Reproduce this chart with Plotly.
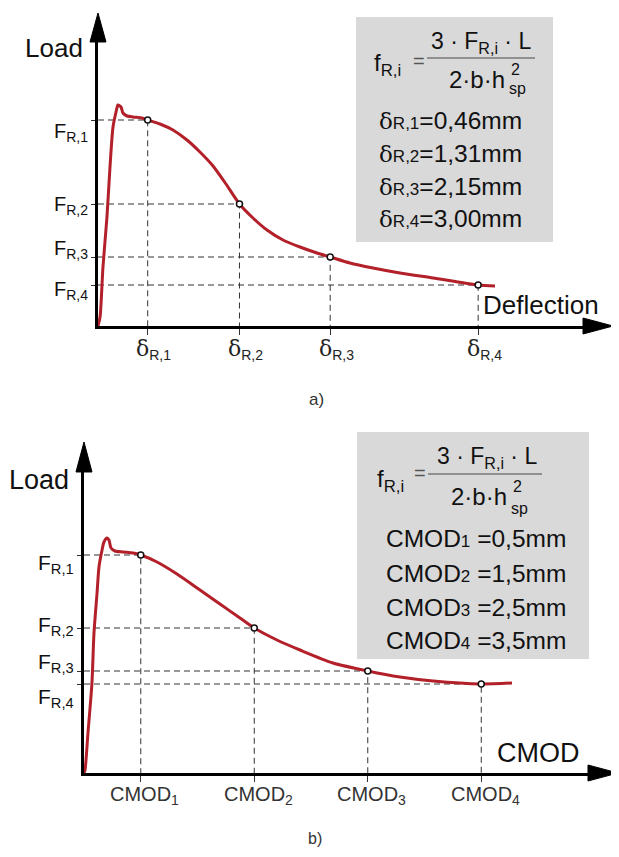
import plotly.graph_objects as go

# page is 619x857; the html body has an 8px margin, so the figure is 16px smaller
PAGE_W, PAGE_H = 619, 857
OFF = 8
W, H = PAGE_W - 2 * OFF, PAGE_H - 2 * OFF

# ---------------- data ----------------
# a) Load - deflection curve (schematic units read off the picture)
defl_x = [0, 0.019, 0.046, 0.083, 0.111, 0.139, 0.167, 0.185, 0.213, 0.231, 0.269, 0.324,
          0.407, 0.46, 0.574, 0.694, 0.824, 0.944, 1.065, 1.185, 1.31, 1.435, 1.565, 1.713,
          1.870, 2.028, 2.15, 2.333, 2.546, 2.796, 3.102, 3.52, 3.676]
defl_load = [0, 0.45, 2.95, 5.45, 7.95, 9.95, 10.7, 11.05, 10.95, 10.65, 10.5, 10.45,
             10.4, 10.3, 10.1, 9.8, 9.3, 8.7, 8.0, 7.1, 6.1, 5.4, 4.8, 4.3,
             3.95, 3.65, 3.45, 3.15, 2.9, 2.65, 2.4, 2.05, 2.0]
defl_pts_x = [0.46, 1.31, 2.15, 3.52]
defl_pts_F = [10.3, 6.1, 3.45, 2.05]
defl_values = ["0,46", "1,31", "2,15", "3,00"]

# b) Load - CMOD curve (mm)
cmod_x = [0, 0.009, 0.035, 0.070, 0.088, 0.115, 0.132, 0.159, 0.176, 0.203, 0.220, 0.238,
          0.273, 0.344, 0.432, 0.5, 0.643, 0.819, 1.022, 1.198, 1.374, 1.5, 1.70, 1.903,
          2.194, 2.5, 2.784, 3.075, 3.5, 3.771]
cmod_load = [0, 0.15, 2.0, 4.5, 7.0, 9.0, 10.3, 11.15, 11.55, 11.75, 11.65, 11.25,
             11.1, 11.05, 11.0, 10.9, 10.55, 9.95, 9.15, 8.45, 7.75, 7.25, 6.65, 6.15,
             5.5, 5.1, 4.8, 4.6, 4.45, 4.5]
cmod_pts_x = [0.5, 1.5, 2.5, 3.5]
cmod_pts_F = [10.9, 7.25, 5.1, 4.45]
cmod_values = ["0,5", "1,5", "2,5", "3,5"]

idx = ["1", "2", "3", "4"]
F_labels = ["F<sub>R,%s</sub>" % i for i in idx]
delta_labels = ["<span style=\"font-family:DejaVu Serif;font-size:22px\">δ</span><sub>R,%s</sub>" % i for i in idx]
cmod_labels = ["CMOD<sub>%s</sub>" % i for i in idx]

# ---------------- style ----------------
RED = "#b3202a"
FONT = "Liberation Sans, Arial, sans-serif"
BOX = "#d9d9d9"
top_label_nudge = [8, -3, -12, 1]
bot_label_nudge = [5, -6, -12, 10]


def X(p):
    return (p - OFF) / W


def Y(p):
    return 1 - (p - OFF) / H


fig = go.Figure()


def guides(xs, ys, xa, ya):
    gx, gy = [], []
    for a, b in zip(xs, ys):
        gx += [0, a, a, None]
        gy += [b, b, 0, None]
    fig.add_trace(go.Scatter(x=gx, y=gy, mode="lines", xaxis=xa, yaxis=ya,
                             line=dict(color="#333", width=1, dash="6px,4px"),
                             hoverinfo="skip", showlegend=False))


guides(defl_pts_x, defl_pts_F, "x", "y")
guides(cmod_pts_x, cmod_pts_F, "x2", "y2")

fig.add_trace(go.Scatter(x=defl_x, y=defl_load, mode="lines", line=dict(color=RED, width=3, shape="spline", smoothing=0.7),
                         xaxis="x", yaxis="y", showlegend=False, cliponaxis=False))
fig.add_trace(go.Scatter(x=cmod_x, y=cmod_load, mode="lines", line=dict(color=RED, width=3, shape="spline", smoothing=0.7),
                         xaxis="x2", yaxis="y2", showlegend=False, cliponaxis=False))
for xs, ys, xa, ya in [(defl_pts_x, defl_pts_F, "x", "y"), (cmod_pts_x, cmod_pts_F, "x2", "y2")]:
    fig.add_trace(go.Scatter(x=xs, y=ys, mode="markers", xaxis=xa, yaxis=ya,
                             marker=dict(symbol="circle", size=6, color="white", line=dict(color="#111", width=1.5)),
                             showlegend=False, cliponaxis=False))

ax_common = dict(showline=True, linewidth=3, linecolor="black", showgrid=False, zeroline=False,
                 showticklabels=False, ticks="outside", tickwidth=1, tickcolor="#333", fixedrange=True)

fig.update_layout(
    width=W, height=H, margin=dict(l=0, r=0, t=0, b=0),
    paper_bgcolor="white", plot_bgcolor="rgba(0,0,0,0)",
    font=dict(family=FONT, color="#111"),
    xaxis=dict(domain=[X(98), X(583)], range=[0, 485 / 108], anchor="y", tickvals=defl_pts_x, ticklen=6, **ax_common),
    yaxis=dict(domain=[Y(326), Y(42)], range=[0, 284 / 20], anchor="x", tickvals=defl_pts_F, ticklen=4, **ax_common),
    xaxis2=dict(domain=[X(84), X(588)], range=[0, 504 / 113.5], anchor="y2", tickvals=cmod_pts_x, ticklen=6, **ax_common),
    yaxis2=dict(domain=[Y(773), Y(472)], range=[0, 301 / 20], anchor="x2", tickvals=cmod_pts_F, ticklen=4, **ax_common),
)

shapes = []
# axis arrow heads
for (tx, ty, bx, by) in [(613, 326, 583, 326), (98, 13, 98, 42), (618, 773, 588, 773), (84, 442, 84, 472)]:
    if ty == by:
        path = "M%f,%f L%f,%f L%f,%f Z" % (X(bx), Y(by - 8), X(tx), Y(ty), X(bx), Y(by + 8))
    else:
        path = "M%f,%f L%f,%f L%f,%f Z" % (X(bx - 8), Y(by), X(tx), Y(ty), X(bx + 8), Y(by))
    shapes.append(dict(type="path", xref="paper", yref="paper", path=path,
                       fillcolor="black", line=dict(color="black", width=1)))
# grey boxes
shapes.append(dict(type="rect", xref="paper", yref="paper", x0=X(356), x1=X(553), y0=Y(242), y1=Y(17),
                   fillcolor=BOX, line=dict(width=0), layer="below"))
shapes.append(dict(type="rect", xref="paper", yref="paper", x0=X(357), x1=X(589), y0=Y(659), y1=Y(432),
                   fillcolor=BOX, line=dict(width=0), layer="below"))
# fraction bars
shapes.append(dict(type="line", xref="paper", yref="paper", x0=X(427), x1=X(535), y0=Y(58), y1=Y(58),
                   line=dict(color="#777", width=1.5)))
shapes.append(dict(type="line", xref="paper", yref="paper", x0=X(428), x1=X(542), y0=Y(474), y1=Y(474),
                   line=dict(color="#777", width=1.5)))
fig.update_layout(shapes=shapes)

ann = []


def txt(text, x, y, size, xanchor="center", yanchor="middle", color="#111"):
    ann.append(dict(text=text, x=X(x), y=Y(y), xref="paper", yref="paper", showarrow=False,
                    xanchor=xanchor, yanchor=yanchor, font=dict(size=size, color=color, family=FONT)))


# axis titles
txt("Load", 54, 48, 26)
txt("Load", 39, 480, 27)
txt("Deflection", 541, 305, 26)
txt("CMOD", 538, 753, 27)
txt("a)", 316, 400, 17, color="#333")
txt("b)", 315, 838, 16, color="#333")

# tick labels
for i in range(4):
    ann.append(dict(text=F_labels[i], x=0, y=defl_pts_F[i], xref="x", yref="y", showarrow=False,
                    xanchor="right", yanchor="middle", xshift=-8, yshift=-(top_label_nudge[i] + 4),
                    font=dict(size=20, family=FONT, color="#111")))
    ann.append(dict(text=F_labels[i], x=0, y=cmod_pts_F[i], xref="x2", yref="y2", showarrow=False,
                    xanchor="right", yanchor="middle", xshift=-8, yshift=-(bot_label_nudge[i] + 4),
                    font=dict(size=21, family=FONT, color="#111")))
    ann.append(dict(text=delta_labels[i], x=defl_pts_x[i], y=0, xref="x", yref="y", showarrow=False,
                    xanchor="center", yanchor="top", xshift=6, yshift=-8,
                    font=dict(size=20, family=FONT, color="#222")))
    ann.append(dict(text=cmod_labels[i], x=cmod_pts_x[i], y=0, xref="x2", yref="y2", showarrow=False,
                    xanchor="center", yanchor="top", xshift=4, yshift=-8,
                    font=dict(size=20, family=FONT, color="#333")))

# formula boxes
for (fx, fy, ex, ey, nx, ny, dx, dy, s2x, s2y, spx, spy) in [
        (372, 64, 419, 61, 481, 42, 507, 79, 509, 70, 507, 89),
        (375, 480, 420, 473, 487, 457, 509, 496, 511, 486, 509, 508)]:
    txt("f<sub>R,i</sub>", fx, fy, 24, xanchor="left")
    txt("=", ex, ey, 20, color="#555")
    txt("3 · F<sub>R,i</sub> · L", nx, ny, 23)
    txt("2·b·h", dx, dy, 24, xanchor="right")
    txt("2", s2x, s2y, 16, xanchor="left")
    txt("sp", spx, spy, 16, xanchor="left")

for i, yy in enumerate([120, 153, 186, 219]):
    txt("<span style=\"font-family:DejaVu Serif;font-size:23px\">δ</span>"
        "<span style=\"font-size:17px\">R,%s</span>=%smm" % (idx[i], defl_values[i]),
        377, yy, 24.5, xanchor="left")
for i, yy in enumerate([538, 573, 607, 640]):
    txt("CMOD<span style=\"font-size:17px\">%s</span> =%smm" % (idx[i], cmod_values[i]),
        384, yy, 24.5, xanchor="left")

fig.update_layout(annotations=ann)
fig.write_html("out.html")
